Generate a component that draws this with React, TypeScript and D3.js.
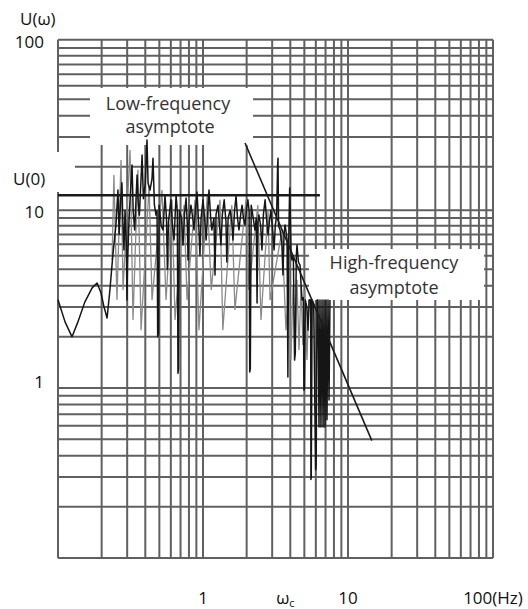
import React from 'react';
import * as d3 from 'd3';

const W = 528;
const H = 609;

// Axis domains (log-log)
const xDomain = [0.1, 100];
const yDomain = [0.1, 100];
const yTop = 112;

// Tick labels
const xTickValues = [1, 3.7, 10, 100];
const xTickLabels = ['1', 'ωc', '10', '100(Hz)'];
const yTickValues = [1, 10, 100];
const yTickLabels = ['1', '10', '100'];
const extraYGrid = [11.1];

// Asymptotes
const U0 = 13.6;
const lowFreqEnd = 6.4;
const highFreqAsymptote: [number, number][] = [[1.95, 27.6], [14.6, 0.49]];

// Measured spectrum (dark trace)
const spectrumDark: [number, number][] = [
  [0.100, 3.3], [0.112, 2.44], [0.125, 2.0], [0.137, 2.44], [0.153, 3.2], [0.172, 3.88], [0.186, 4.15],
  [0.198, 3.62], [0.207, 3.03], [0.218, 2.58], [0.228, 3.77], [0.239, 6.06], [0.251, 9.1], [0.259, 14.6],
  [0.264, 8.0], [0.270, 12.5], [0.276, 16.1], [0.280, 9.5], [0.285, 6.48], [0.290, 11.1], [0.296, 7.0],
  [0.299, 3.29], [0.302, 5.66], [0.310, 10.5], [0.324, 20.5], [0.330, 11.0], [0.338, 8.5], [0.351, 17.9],
  [0.358, 12.0], [0.364, 10.4], [0.375, 18.0], [0.380, 23.5], [0.388, 13.0], [0.400, 16.0], [0.411, 28.8],
  [0.418, 16.0], [0.431, 14.6], [0.445, 17.0], [0.452, 22.5], [0.462, 12.0], [0.474, 10.4], [0.482, 11.0],
  [0.487, 2.0], [0.493, 2.1], [0.498, 11.9], [0.515, 9.0], [0.530, 8.5], [0.547, 13.6], [0.560, 10.0],
  [0.568, 5.0], [0.578, 9.5], [0.601, 12.8], [0.615, 9.0], [0.631, 7.42], [0.652, 13.6], [0.665, 11.0],
  [0.672, 1.22], [0.678, 1.3], [0.687, 11.1], [0.710, 10.0], [0.728, 6.94], [0.745, 10.5], [0.764, 13.1],
  [0.780, 9.0], [0.789, 5.66], [0.800, 9.5], [0.826, 11.9], [0.850, 10.0], [0.867, 8.5], [0.885, 11.0],
  [0.909, 14.2], [0.935, 9.0], [0.953, 6.06], [0.970, 10.0], [1.00, 12.8], [1.03, 9.5], [1.05, 7.42],
  [1.08, 11.0], [1.10, 14.6], [1.13, 10.0], [1.15, 8.5], [1.19, 10.0], [1.21, 4.62], [1.23, 10.5],
  [1.27, 11.9], [1.30, 9.0], [1.33, 6.94], [1.36, 10.5], [1.40, 12.8], [1.44, 9.5], [1.46, 5.51],
  [1.49, 10.0], [1.54, 11.1], [1.58, 9.5], [1.61, 7.42], [1.65, 11.0], [1.69, 13.5], [1.73, 10.0],
  [1.77, 8.5], [1.82, 10.5], [1.86, 11.9], [1.90, 10.0], [1.95, 9.1], [2.00, 11.5], [2.04, 12.8],
  [2.08, 11.0], [2.10, 1.24], [2.12, 1.3], [2.15, 11.9], [2.22, 10.0], [2.28, 8.5], [2.33, 10.0],
  [2.36, 3.16], [2.39, 9.5], [2.43, 10.4], [2.50, 9.0], [2.55, 6.48], [2.61, 10.5], [2.68, 12.8],
  [2.74, 10.0], [2.81, 7.94], [2.87, 9.5], [2.94, 11.1], [3.02, 8.5], [3.09, 6.48], [3.15, 9.0],
  [3.22, 10.4], [3.27, 20.0], [3.29, 22.5], [3.32, 9.0], [3.40, 8.5], [3.50, 7.0], [3.56, 4.62],
  [3.62, 8.0], [3.68, 9.1], [3.80, 7.5], [3.85, 1.16], [3.89, 6.5], [3.96, 15.0], [3.99, 12.0],
  [4.05, 6.0], [4.11, 5.66], [4.20, 6.0], [4.28, 1.46], [4.33, 1.6], [4.40, 6.0], [4.45, 6.94],
  [4.55, 5.5], [4.67, 5.29], [4.75, 4.0], [4.82, 3.29], [4.92, 3.4], [4.97, 0.97], [5.01, 1.0],
  [5.08, 3.29], [5.20, 3.0], [5.30, 2.19], [5.40, 3.3], [5.53, 3.29], [5.55, 0.29], [5.58, 0.30],
  [5.66, 3.29], [5.80, 3.1], [5.98, 0.33], [6.03, 0.35], [6.12, 3.29], [6.21, 3.29], [6.31, 0.59],
  [6.41, 3.29], [6.51, 0.59], [6.62, 3.29], [6.73, 0.59], [6.83, 3.29], [6.94, 0.59], [7.05, 3.29],
  [7.16, 0.65], [7.28, 3.29], [7.40, 0.85], [7.51, 3.29],
];

// Measured spectrum (faint trace)
const spectrumGray: [number, number][] = [
  [0.236, 5.66], [0.243, 17.9], [0.255, 3.29], [0.272, 21.9], [0.281, 3.77], [0.314, 25.1], [0.329, 2.51],
  [0.356, 19.2], [0.374, 2.19], [0.425, 15.6], [0.445, 3.29], [0.521, 14.6], [0.556, 3.29], [0.611, 12.8],
  [0.641, 2.51], [0.740, 11.9], [0.776, 3.29], [0.881, 12.8], [0.938, 2.19], [1.07, 13.6], [1.14, 3.77],
  [1.31, 12.8], [1.37, 2.19], [1.58, 11.9], [1.66, 2.88], [1.98, 12.8], [2.07, 3.77], [2.39, 11.9],
  [2.51, 2.51], [2.81, 11.1], [2.90, 3.29], [3.51, 8.5], [3.73, 2.19], [3.92, 4.32], [4.04, 1.46],
  [4.18, 4.04], [4.31, 1.56], [4.45, 4.32], [4.59, 1.67], [4.74, 4.04], [4.89, 1.79], [5.05, 3.77],
  [5.21, 1.46], [5.37, 3.29],
];

const FONT = '"Open Sans", sans-serif';

export default function App() {
  const x = d3.scaleLog().domain(xDomain).range([58, 493]);
  const y = d3.scaleLog().domain(yDomain).range([558, 48]);

  const xGrid = x.ticks();
  const yGrid = [...y.ticks(), ...extraYGrid];

  const line = d3
    .line<[number, number]>()
    .x((d) => x(d[0]))
    .y((d) => y(d[1]));

  const x0 = x(xDomain[0]);
  const x1 = x(xDomain[1]);
  const yT = y(yTop);
  const yB = y(yDomain[0]);

  const gridColor = '#606060';

  return (
    <svg
      width={W}
      height={H}
      style={{ position: 'absolute', left: 0, top: 0, background: '#fff' }}
      fontFamily={FONT}
    >
      <rect x={0} y={0} width={W} height={H} fill="#fff" />
      {/* grid */}
      <g stroke={gridColor} strokeWidth={2}>
        {xGrid.map((v, i) => (
          <line key={'vx' + i} x1={x(v)} x2={x(v)} y1={yT} y2={yB} />
        ))}
        {yGrid.map((v, i) => (
          <line key={'hy' + i} x1={x0} x2={x1} y1={y(v)} y2={y(v)} />
        ))}
        <line x1={x0} x2={x1} y1={yT} y2={yT} />
      </g>
      {/* label boxes */}
      <rect x={90} y={88} width={163} height={57} fill="#fff" />
      <rect x={309} y={249} width={175} height={51} fill="#fff" />
      <rect x={0} y={152} width={75} height={40} fill="#fff" />

      {/* spectrum */}
      <path d={line(spectrumGray) || ''} fill="none" stroke="#8a8a8a" strokeWidth={1.3} />
      <path d={line(spectrumDark) || ''} fill="none" stroke="#151515" strokeWidth={1.5} strokeLinejoin="round" />

      {/* asymptotes */}
      <line x1={x0} x2={x(lowFreqEnd)} y1={y(U0)} y2={y(U0)} stroke="#1a1a1a" strokeWidth={2.6} />
      <path d={line(highFreqAsymptote) || ''} fill="none" stroke="#1a1a1a" strokeWidth={1.6} />

      {/* annotation text */}
      <g fontSize={18} fill="#333" textAnchor="middle">
        <text x={168} y={110}>Low-frequency</text>
        <text x={170} y={133}>asymptote</text>
        <text x={394} y={269}>High-frequency</text>
        <text x={394} y={294}>asymptote</text>
      </g>

      {/* axis labels */}
      <g fontSize={17} fill="#111">
        <text x={20} y={25}>U(ω)</text>
        <text x={13} y={y(U0) - 10}>U(0)</text>
        {yTickValues.map((v, i) => (
          <text key={'yl' + i} x={44} y={y(v) - 5} textAnchor="end" dominantBaseline="middle">
            {yTickLabels[i]}
          </text>
        ))}
        {xTickValues.map((v, i) =>
          xTickLabels[i] === 'ωc' ? (
            <text key={'xl' + i} x={x(v)} y={604} textAnchor="middle">
              ω<tspan fontSize={11} dy={3}>c</tspan>
            </text>
          ) : (
            <text key={'xl' + i} x={x(v)} y={604} textAnchor="middle">
              {xTickLabels[i]}
            </text>
          )
        )}
      </g>
    </svg>
  );
}
